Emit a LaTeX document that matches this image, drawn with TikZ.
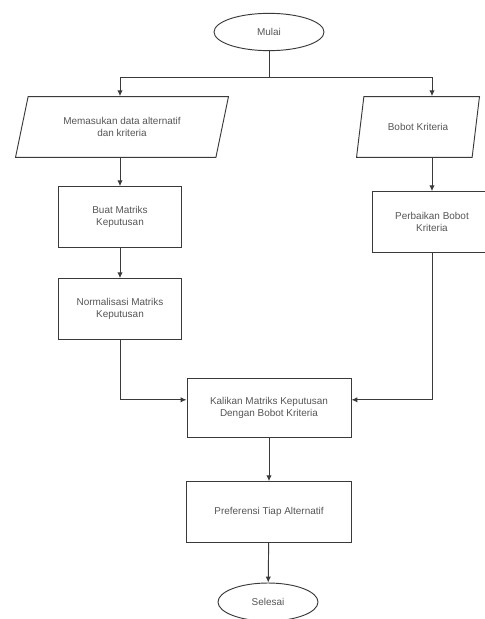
\documentclass[tikz,border=0pt]{standalone}
\usepackage{fontspec}
\setmainfont{Liberation Sans}
\usepackage{xcolor}
\usetikzlibrary{arrows.meta,shapes.geometric}
\definecolor{linegray}{HTML}{3A3A3A}
\definecolor{textgray}{HTML}{555555}
\tikzset{
  terminal/.style={ellipse,draw=linegray,thick,minimum width=3.3cm,minimum height=1.12cm,text=textgray,font=\fontsize{8.5}{10}\selectfont},
  iobox/.style={trapezium,trapezium left angle=73,trapezium right angle=107,trapezium stretches=true,draw=linegray,thick,minimum height=1.82cm,text=textgray,align=center,font=\fontsize{8.5}{10.5}\selectfont},
  procbox/.style={rectangle,draw=linegray,thick,minimum height=1.82cm,text=textgray,align=center,font=\fontsize{8.5}{10.5}\selectfont},
  flow/.style={linegray,thick,-{Latex[length=5pt,width=4.5pt]}},
  plain/.style={linegray,thick}
}
\begin{document}
\begin{tikzpicture}[x=0.03cm,y=-0.03cm]
\useasboundingbox (0,0) rectangle (485,619);
\node[terminal] (mulai) at (269,32) {Mulai};
\node[iobox,minimum width=6.4cm] (input) at (122,127) {Memasukan data alternatif\\dan kriteria};
\node[iobox,minimum width=3.7cm] (bobot) at (418,127) {Bobot Kriteria};
\node[procbox,minimum width=3.69cm] (buat) at (120,217) {Buat Matriks\\Keputusan};
\node[procbox,minimum width=3.69cm] (norm) at (120,309) {Normalisasi Matriks\\Keputusan};
\node[procbox,minimum width=3.6cm] (perbaikan) at (432,222) {Perbaikan Bobot\\Kriteria};
\node[procbox,minimum width=4.92cm,minimum height=1.77cm] (kali) at (269,408) {Kalikan Matriks Keputusan\\Dengan Bobot Kriteria};
\node[procbox,minimum width=4.95cm] (pref) at (269,512) {Preferensi Tiap Alternatif};
\node[terminal,minimum width=3cm,minimum height=1.14cm] (selesai) at (268,602) {Selesai};
\coordinate (split) at (269,77);
\draw[plain] (mulai) -- (split);
\draw[flow] (split) -| (input.north -| buat.north);
\draw[flow] (split) -| (bobot.north -| perbaikan.north);
\draw[flow] (input.south -| buat.north) -- (buat);
\draw[flow] (buat) -- (norm);
\draw[flow] (bobot.south -| perbaikan.north) -- (perbaikan);
\draw[flow] (norm) |- ([yshift=7]kali.west);
\draw[flow] (perbaikan) |- ([yshift=7]kali.east);
\draw[flow] (kali) -- (pref);
\draw[flow] (pref) -- (selesai);
\end{tikzpicture}
\end{document}
